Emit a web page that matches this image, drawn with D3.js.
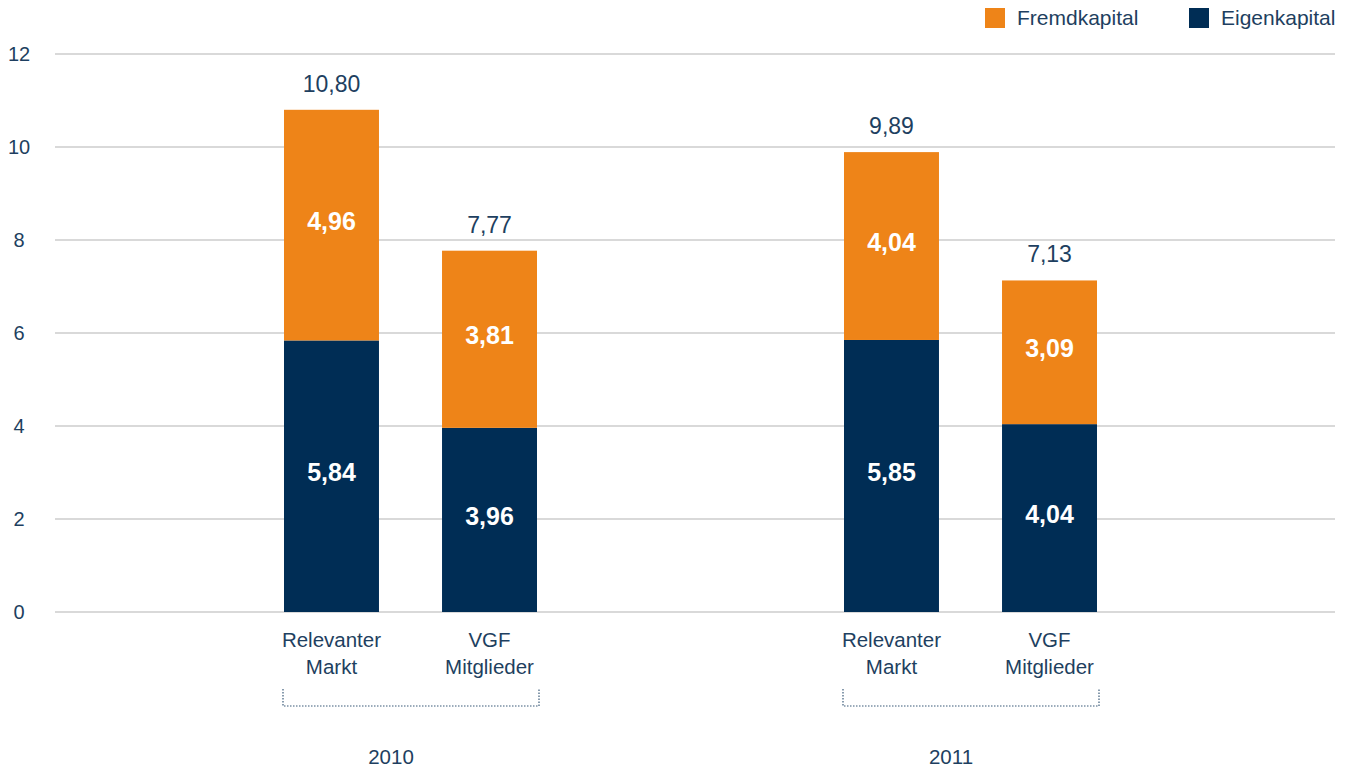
<!DOCTYPE html>
<html>
<head>
<meta charset="utf-8">
<script src="https://cdn.jsdelivr.net/npm/d3@7"></script>
<style>
  body { margin: 0; background: #fff; }
  svg text { font-family: "Liberation Sans", Arial, Helvetica, sans-serif; }
</style>
</head>
<body>
<svg id="chart" width="1353" height="769"></svg>
<script>
// data
var years = ['2010', '2011'];
var categories = ['Relevanter\nMarkt', 'VGF\nMitglieder'];
var eigenkapital = [[5.84, 3.96], [5.85, 4.04]];
var fremdkapital = [[4.96, 3.81], [4.04, 3.09]];
var totals = [[10.80, 7.77], [9.89, 7.13]];
var yTicks = [0, 2, 4, 6, 8, 10, 12];

var orange = '#ee8418',
    navy = '#002d55',
    textCol = '#1e3f60';

var fmt = function(v) { return v.toFixed(2).replace('.', ','); };

var svg = d3.select('#chart');

var y = d3.scaleLinear().domain([0, 12]).range([612, 54]);
var xGroup = d3.scaleBand().domain(years).range([130, 1250]);
var xInner = d3.scaleBand().domain(d3.range(categories.length)).range([154, 407]).paddingInner(0.399);

// gridlines
svg.append('g').selectAll('line').data(yTicks).enter().append('line')
    .attr('x1', 55).attr('x2', 1335)
    .attr('y1', function(d) { return y(d); }).attr('y2', function(d) { return y(d); })
    .attr('stroke', '#cccccc').attr('stroke-width', 1.5);

svg.append('g').selectAll('text').data(yTicks).enter().append('text')
    .attr('x', 19).attr('y', function(d) { return y(d) + 7; })
    .attr('text-anchor', 'middle').attr('font-size', 20).attr('fill', textCol)
    .text(function(d) { return d; });

// bars
years.forEach(function(yr, gi) {
    var g = svg.append('g').attr('transform', 'translate(' + xGroup(yr) + ',0)');
    categories.forEach(function(cat, ci) {
        var x0 = xInner(ci), w = xInner.bandwidth();
        var e = eigenkapital[gi][ci], f = fremdkapital[gi][ci];
        g.append('rect').attr('x', x0).attr('width', w)
            .attr('y', y(e)).attr('height', y(0) - y(e)).attr('fill', navy);
        g.append('rect').attr('x', x0).attr('width', w)
            .attr('y', y(e + f)).attr('height', y(e) - y(e + f)).attr('fill', orange);
        // segment labels
        g.append('text').attr('x', x0 + w / 2).attr('y', (y(0) + y(e)) / 2 + 5)
            .attr('text-anchor', 'middle').attr('font-size', 25).attr('font-weight', 'bold')
            .attr('fill', '#fff').text(fmt(e));
        g.append('text').attr('x', x0 + w / 2).attr('y', (y(e) + y(e + f)) / 2 + 5)
            .attr('text-anchor', 'middle').attr('font-size', 25).attr('font-weight', 'bold')
            .attr('fill', '#fff').text(fmt(f));
        // total
        g.append('text').attr('x', x0 + w / 2).attr('y', y(totals[gi][ci]) - 18)
            .attr('text-anchor', 'middle').attr('font-size', 23)
            .attr('fill', textCol).text(fmt(totals[gi][ci]));
        // category label
        var t = g.append('text').attr('text-anchor', 'middle').attr('font-size', 20.5).attr('fill', textCol);
        cat.split('\n').forEach(function(line, li) {
            t.append('tspan').attr('x', x0 + w / 2).attr('y', 647 + li * 27).text(line);
        });
    });
    // bracket
    var bx0 = xInner(0) - 1, bx1 = xInner(categories.length - 1) + xInner.bandwidth() + 2;
    g.append('path')
        .attr('d', 'M' + bx0 + ',689V706H' + bx1 + 'V689')
        .attr('fill', 'none').attr('stroke', '#3a5a78').attr('stroke-width', 1.2)
        .attr('stroke-dasharray', '1.5,1.5');
    // year label
    g.append('text').attr('x', 261).attr('y', 764)
        .attr('text-anchor', 'middle').attr('font-size', 20.5).attr('fill', textCol).text(yr);
});

// legend
var legend = [{ label: 'Fremdkapital', color: orange, x: 985 }, { label: 'Eigenkapital', color: navy, x: 1189 }];
var lg = svg.append('g').selectAll('g').data(legend).enter().append('g')
    .attr('transform', function(d) { return 'translate(' + d.x + ',8)'; });
lg.append('rect').attr('width', 20).attr('height', 20).attr('fill', function(d) { return d.color; });
lg.append('text').attr('x', 32).attr('y', 17).attr('font-size', 21).attr('fill', textCol)
    .text(function(d) { return d.label; });
</script>
</body>
</html>
